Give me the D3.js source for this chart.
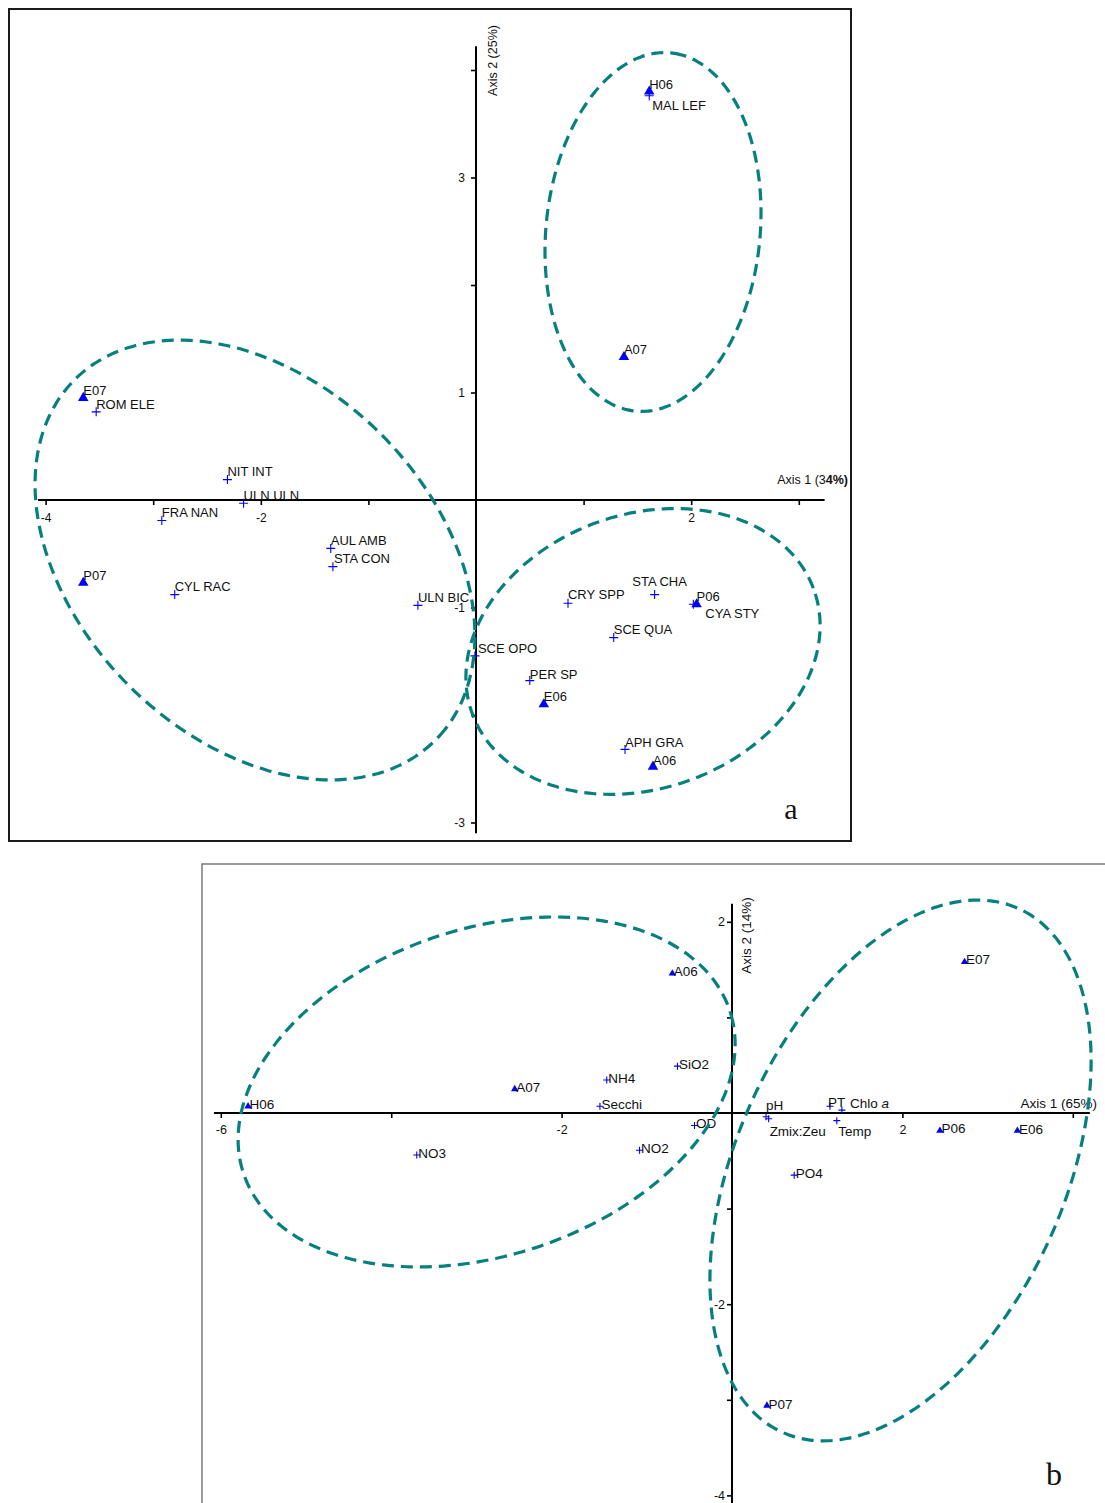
<!DOCTYPE html>
<html><head><meta charset="utf-8">
<script src="https://cdn.jsdelivr.net/npm/d3@7"></script>
<style>
body{margin:0;background:#fff}
text{fill:#111}
</style>
</head><body>
<svg id="c" width="1105" height="1503" xmlns="http://www.w3.org/2000/svg"></svg>
<script>
// ---------------- DATA : panel a (species ordination) ----------------
const sitesA   = ["H06","A07","E07","P07","P06","E06","A06"];
const sitesAX  = [1.61, 1.375, -3.65, -3.65, 2.05, 0.63, 1.645];
const sitesAY  = [3.80, 1.33, 0.95, -0.77, -0.97, -1.90, -2.48];
const speciesA  = ["MAL LEF","ROM ELE","NIT INT","ULN ULN","FRA NAN","CYL RAC","AUL AMB","STA CON","ULN BIC","SCE OPO","CRY SPP","STA CHA","CYA STY","SCE QUA","PER SP","APH GRA"];
const speciesAX = [1.61, -3.53, -2.31, -2.16, -2.92, -2.80, -1.35, -1.33, -0.54, -0.01, 0.855, 1.66, 2.02, 1.28, 0.50, 1.385];
const speciesAY = [3.76, 0.82, 0.19, -0.03, -0.19, -0.88, -0.45, -0.62, -0.98, -1.45, -0.96, -0.88, -0.97, -1.28, -1.68, -2.32];
const xTicksA = [-4,-3,-2,-1,1,2,3];
const xTickLabelsA = ["-4","","-2","","","2",""];
const yTicksA = [4,3,2,1,-1,-2,-3];
const yTickLabelsA = ["","3","","1","-1","","-3"];
// group ellipses: centre (x,y) and two conjugate semi-diameters, data units
const groupA1 = [1.645, 2.493, 0.166, 1.666, 0.990, -0.099];
const groupA2 = [-2.054, -0.558, 1.676, -1.677, 1.170, 1.171];
const groupA3 = [1.552, -1.409, 1.587, 0.578, 0.436, -1.197];

// ---------------- DATA : panel b (environment ordination) ----------------
const sitesB  = ["H06","A07","A06","E07","P06","E06","P07"];
const sitesBX = [-5.68, -2.55, -0.70, 2.73, 2.44, 3.35, 0.41];
const sitesBY = [0.07, 0.25, 1.46, 1.58, -0.185, -0.185, -3.06];
const varsB  = ["NH4","Secchi","SiO2","OD","NO2","NO3","pH","Zmix:Zeu","PT","Chlo a","Temp","PO4"];
const varsBX = [-1.47, -1.55, -0.64, -0.44, -1.085, -3.70, 0.40, 0.43, 1.15, 1.29, 1.23, 0.73];
const varsBY = [0.345, 0.07, 0.49, -0.13, -0.39, -0.44, -0.04, -0.06, 0.07, 0.03, -0.08, -0.65];
const xTicksB = [-6,-4,-2,2,4];
const xTickLabelsB = ["-6","","-2","2",""];
const yTicksB = [2,1,-1,-2,-3,-4];
const yTickLabelsB = ["2","","","-2","","-4"];
const groupB1 = [-2.88, 0.22, 2.852, 0.856, 0.611, -1.618];
const groupB2 = [1.978, -0.601, 1.387, 2.739, 1.755, -0.706];

// ---------------- LAYOUT ----------------
const SANS = '"Liberation Sans",Arial,Helvetica,sans-serif';
const SERIF = '"Liberation Serif","Times New Roman",Times,serif';
const svg = d3.select("#c");
svg.append("rect").attr("width",1105).attr("height",1503).attr("fill","#fff");
const TEAL = "#067f7f", BLUE = "#0000ff";

function panel(cfg){
  const g = svg.append("g");
  const x = cfg.x, y = cfg.y;
  g.append("path").attr("d", cfg.frame).attr("fill","none")
    .attr("stroke", cfg.frameColor).attr("stroke-width", cfg.frameWidth);
  g.append("line").attr("x1", x(cfg.xExt[0])).attr("x2", x(cfg.xExt[1]))
    .attr("y1", y(0)).attr("y2", y(0)).attr("stroke","#000").attr("stroke-width",2);
  g.append("line").attr("x1", x(0)).attr("x2", x(0))
    .attr("y1", y(cfg.yExt[0])).attr("y2", y(cfg.yExt[1])).attr("stroke","#000").attr("stroke-width",2);
  const xa = g.append("g").attr("transform",`translate(0,${y(0)})`)
    .call(d3.axisBottom(x).tickValues(cfg.xTicks).tickSize(5).tickPadding(cfg.xPad)
      .tickFormat((d,i)=>cfg.xLabels[i]));
  xa.select(".domain").remove();
  xa.selectAll("line").attr("stroke","#000").attr("stroke-width",1.6);
  xa.selectAll("text").style("font-size",cfg.tickFont+"px").style("font-family",SANS).attr("fill","#111");
  const ya = g.append("g").attr("transform",`translate(${x(0)},0)`)
    .call(d3.axisLeft(y).tickValues(cfg.yTicks).tickSize(5).tickPadding(cfg.yPad)
      .tickFormat((d,i)=>cfg.yLabels[i]));
  ya.select(".domain").remove();
  ya.selectAll("line").attr("stroke","#000").attr("stroke-width",1.6);
  ya.selectAll("text").style("font-size",cfg.tickFont+"px").style("font-family",SANS).attr("fill","#111");
  return g;
}

function label(g, n, lx, ly, font, anchor){
  const t = g.append("text").attr("x",lx).attr("y",ly)
    .style("font-size",font+"px").style("font-family",SANS)
    .attr("text-anchor", anchor || "start");
  if (n === "Chlo a"){
    t.append("tspan").text("Chlo ");
    t.append("tspan").style("font-style","italic").text("a");
  } else t.text(n);
}
function crosses(g, x, y, names, xs, ys, half, off, font){
  names.forEach((n,i)=>{
    const px = x(xs[i]), py = y(ys[i]);
    g.append("path").attr("d",`M${px-half},${py}H${px+half}M${px},${py-half}V${py+half}`)
      .attr("stroke",BLUE).attr("stroke-width",1.1).attr("fill","none");
    const o = off[n] || off._default;
    label(g, n, px+o[0], py+o[1], font, o[2]);
  });
}
function triangles(g, x, y, names, xs, ys, size, off, font){
  const sym = d3.symbol(d3.symbolTriangle, size);
  names.forEach((n,i)=>{
    const px = x(xs[i]), py = y(ys[i]);
    g.append("path").attr("d", sym()).attr("transform",`translate(${px},${py})`).attr("fill",BLUE);
    const o = off[n] || off._default;
    label(g, n, px+o[0], py+o[1], font, o[2]);
  });
}
function ellipse(g, x, y, e){
  const pts = d3.range(0, 360, 2).map(deg=>{
    const t = deg*Math.PI/180;
    return [x(e[0] + Math.cos(t)*e[2] + Math.sin(t)*e[4]),
            y(e[1] + Math.cos(t)*e[3] + Math.sin(t)*e[5])];
  });
  g.append("path").attr("d", d3.line().curve(d3.curveCardinalClosed)(pts))
    .attr("fill","none").attr("stroke",TEAL).attr("stroke-width",3.2)
    .attr("stroke-dasharray","12,7");
}

// ---------------- PANEL A ----------------
const xA = d3.scaleLinear().domain([0,1]).range([476, 583.6]);
const yA = d3.scaleLinear().domain([0,1]).range([500, 392.5]);
const gA = panel({x:xA, y:yA, xExt:[-4.07,3.24], yExt:[-3.1,4.22],
  frame:"M9,9H851V841H9Z", frameColor:"#1a1a1a", frameWidth:2,
  xTicks:xTicksA, xLabels:xTickLabelsA, yTicks:yTicksA, yLabels:yTickLabelsA,
  xPad:8, yPad:6, tickFont:12});
const offSA = {_default:[0,-3], A06:[0,-2]};
const offPA = {_default:[0,-3.3],
  "MAL LEF":[3,14], "SCE OPO":[3,-3.3], "STA CHA":[5,-8.5,"middle"],
  "CYA STY":[12,13.4], "CRY SPP":[0,-4.3], "PER SP":[0,-2], "APH GRA":[0,-2], "STA CON":[1,-3.3]};
crosses(gA, xA, yA, speciesA, speciesAX, speciesAY, 4.5, offPA, 13);
triangles(gA, xA, yA, sitesA, sitesAX, sitesAY, 48, offSA, 13);
gA.append("text").attr("transform",`translate(497,60.5) rotate(-90)`)
  .attr("text-anchor","middle").style("font-size","12.5px").style("font-family",SANS).text("Axis 2 (25%)");
const ax1 = gA.append("text").attr("x",848).attr("y",484).attr("text-anchor","end")
  .style("font-size","12.5px").style("font-family",SANS);
ax1.append("tspan").text("Axis 1 (3");
ax1.append("tspan").style("font-weight","bold").text("4%)");
gA.append("text").attr("x",791).attr("y",819).attr("text-anchor","middle")
  .style("font-family",SERIF).style("font-size","30px").text("a");
[groupA1, groupA2, groupA3].forEach(e=>ellipse(gA, xA, yA, e));

// ---------------- PANEL B ----------------
const xB = d3.scaleLinear().domain([0,1]).range([732, 817.2]);
const yB = d3.scaleLinear().domain([0,1]).range([1113, 1017.4]);
const gB = panel({x:xB, y:yB, xExt:[-6.08,4.2], yExt:[-4.5,2.19],
  frame:"M202,1510V864H1110", frameColor:"#7a7a7a", frameWidth:1.5,
  xTicks:xTicksB, xLabels:xTickLabelsB, yTicks:yTicksB, yLabels:yTickLabelsB,
  xPad:7, yPad:2, tickFont:12.5});
const offSB = {_default:[1.5,3], E07:[1.5,2], P06:[1.5,2]};
const offVB = {_default:[1.5,3],
  "pH":[0,-7], "Zmix:Zeu":[1,17], "PT":[-2,1], "Chlo a":[8,-2.5], "Temp":[1.5,15]};
crosses(gB, xB, yB, varsB, varsBX, varsBY, 3.5, offVB, 13.5);
triangles(gB, xB, yB, sitesB, sitesBX, sitesBY, 24, offSB, 13.5);
gB.append("text").attr("transform",`translate(751,935.5) rotate(-90)`)
  .attr("text-anchor","middle").style("font-size","13.5px").style("font-family",SANS).text("Axis 2 (14%)");
gB.append("text").attr("x",1097).attr("y",1108).attr("text-anchor","end")
  .style("font-size","13.5px").style("font-family",SANS).text("Axis 1 (65%)");
gB.append("text").attr("x",1054).attr("y",1485).attr("text-anchor","middle")
  .style("font-family",SERIF).style("font-size","32px").text("b");
[groupB1, groupB2].forEach(e=>ellipse(gB, xB, yB, e));
</script>
</body></html>
